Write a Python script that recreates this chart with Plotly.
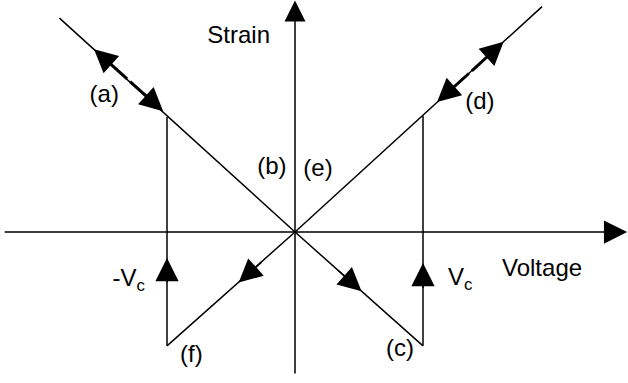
import plotly.graph_objects as go

# normalised units: voltage in units of the switching voltage Vc
VC = 1.0

# branch (a)-(b)-(c)
branch_1_v = [-1.84, 0.0, 1.0]
branch_1_s = [1.86, 0.0, -0.99]
# branch (f)-(e)-(d)
branch_2_v = [-1.0, 0.0, 1.93]
branch_2_s = [-0.99, 0.0, 1.96]
# switching jumps at -Vc and +Vc
jump_v = [-VC, -VC, None, VC, VC]
jump_s = [-0.99, 1.0, None, -0.99, 1.01]

# reversible parts (a) and (d): [mid, tip1, tip2]
seg_a_v = [-1.30, -1.57, -1.03]
seg_a_s = [1.32, 1.59, 1.05]
seg_d_v = [1.37, 1.11, 1.63]
seg_d_s = [1.39, 1.13, 1.655]

# direction arrows on the loop: tail -> tip
arrow_tail_v = [-0.25, 0.33, -VC, VC]
arrow_tail_s = [-0.25, -0.327, -0.45, -0.50]
arrow_tip_v = [-0.44, 0.52, -VC, VC]
arrow_tip_s = [-0.44, -0.515, -0.226, -0.27]

# axes extent
axis_v = [-2.28, 2.595]
axis_s = [-1.243, 2.012]

label_text = ["Strain", "Voltage", "(a)", "(b)", "(c)", "(d)", "(e)", "(f)",
              "-V<sub>c</sub>", "V<sub>c</sub>"]
label_v = [-0.44, 1.93, -1.49, -0.18, 0.82, 1.445, 0.18, -0.81, -1.30, 1.29]
label_s = [1.70, -0.33, 1.18, 0.56, -1.03, 1.12, 0.54, -1.08, -0.42, -0.41]

FONT = "Liberation Sans, Arial, sans-serif"
LW = 1.5

fig = go.Figure()
line = dict(color="black", width=LW)
fig.add_trace(go.Scatter(x=branch_1_v, y=branch_1_s, mode="lines", line=line))
fig.add_trace(go.Scatter(x=branch_2_v, y=branch_2_s, mode="lines", line=line))
fig.add_trace(go.Scatter(x=jump_v, y=jump_s, mode="lines", line=line))
fig.add_trace(go.Scatter(
    x=label_v, y=label_s, mode="text", text=label_text,
    textposition="middle center",
    textfont=dict(family=FONT, size=24, color="black"),
))


def arrow(x0, y0, x1, y1, width=LW, size=3.1):
    fig.add_annotation(
        x=x1, y=y1, ax=x0, ay=y0, xref="x", yref="y", axref="x", ayref="y",
        text="", showarrow=True, arrowhead=2, arrowsize=size,
        arrowwidth=width, arrowcolor="black", standoff=0, startstandoff=0,
    )


# axes
arrow(axis_v[0], 0, axis_v[1], 0)
arrow(0, axis_s[0], 0, axis_s[1], size=2.8)

for x0, y0, x1, y1 in zip(arrow_tail_v, arrow_tail_s, arrow_tip_v, arrow_tip_s):
    arrow(x0, y0, x1, y1)

for sv, ss in ((seg_a_v, seg_a_s), (seg_d_v, seg_d_s)):
    arrow(sv[0], ss[0], sv[1], ss[1], width=3, size=1.55)
    arrow(sv[0], ss[0], sv[2], ss[2], width=3, size=1.55)

fig.update_layout(
    width=628, height=383,
    margin=dict(l=0, r=0, t=0, b=0),
    paper_bgcolor="white", plot_bgcolor="white",
    showlegend=False,
    xaxis=dict(range=[-295 / 128, 333 / 128], visible=False),
    yaxis=dict(range=[-151 / 115, 232 / 115], visible=False),
)

# drop the browser's default body margin so the figure sits at the page corner
fig.write_html("out.html", config={"displayModeBar": False},
               post_script="document.body.style.margin='0';")
